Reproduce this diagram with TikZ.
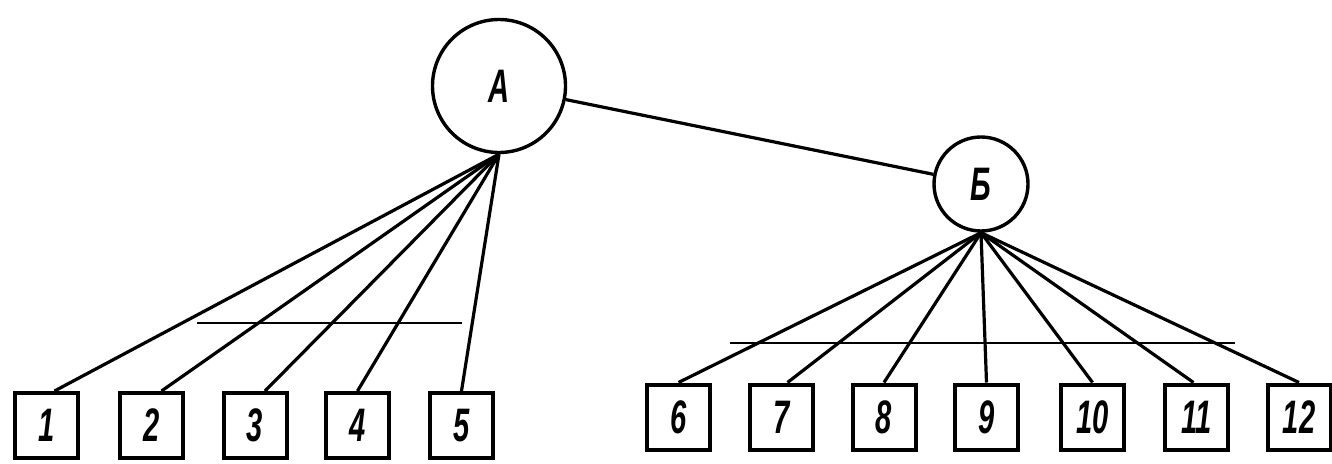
\documentclass[tikz,border=0pt]{standalone}
\usepackage{fontspec}
\usepackage{graphicx}
\setmainfont{Liberation Sans}
\newcommand\lbl[1]{\scalebox{0.62}[1]{\bfseries\itshape #1}}
\begin{document}
\begin{tikzpicture}[x=1pt,y=-1pt,
  every node/.style={font=\fontsize{47}{47}\selectfont, inner sep=0pt},
  circ/.style={circle, draw, line width=3.4pt},
  bx/.style={rectangle, draw, line width=4pt, minimum width=63pt, minimum height=65pt},
  link/.style={line width=3.2pt},
  rule/.style={line width=1.3pt}]
\useasboundingbox (0,0) rectangle (1332,463);
% guide lines
\coordinate (l1) at (197,323);
\coordinate (l2) at (462,323);
\coordinate (r1) at (730,343);
\coordinate (r2) at (1235,343);
\draw[rule] (l1) -- (l2);
\draw[rule] (r1) -- (r2);
% main nodes
\node[circ, minimum size=133pt] (A) at (499,86) {\lbl{А}};
\node[circ, minimum size=94pt] (B) at (981,184) {\lbl{Б}};
% left boxes
\node[bx] (b1) at (46.5,425.5) {\lbl{1}};
\node[bx] (b2) at (151.5,425.5) {\lbl{2}};
\node[bx] (b3) at (255,425.5) {\lbl{3}};
\node[bx] (b4) at (357.5,425.5) {\lbl{4}};
\node[bx] (b5) at (461.5,425.5) {\lbl{5}};
% right boxes
\node[bx] (b6) at (678.5,417) {\lbl{6}};
\node[bx] (b7) at (781.5,417) {\lbl{7}};
\node[bx] (b8) at (884,417) {\lbl{8}};
\node[bx] (b9) at (986.5,417) {\lbl{9}};
\node[bx] (b10) at (1092.5,417) {\lbl{10}};
\node[bx] (b11) at (1196.5,417) {\lbl{11}};
\node[bx] (b12) at (1299,417) {\lbl{12}};
% connectors
\draw[link] (A) -- (B);
\draw[link] (A.south) -- ([xshift=8pt]b1.north);
\draw[link] (A.south) -- ([xshift=10pt]b2.north);
\draw[link] (A.south) -- ([xshift=10pt]b3.north);
\draw[link] (A.south) -- (b4.north);
\draw[link] (A.south) -- (b5.north);
\draw[link] (B.south) -- (b6.north);
\draw[link] (B.south) -- ([xshift=6pt]b7.north);
\draw[link] (B.south) -- (b8.north);
\draw[link] (B.south) -- (b9.north);
\draw[link] (B.south) -- (b10.north);
\draw[link] (B.south) -- ([xshift=-3pt]b11.north);
\draw[link] (B.south) -- (b12.north);
\end{tikzpicture}
\end{document}
